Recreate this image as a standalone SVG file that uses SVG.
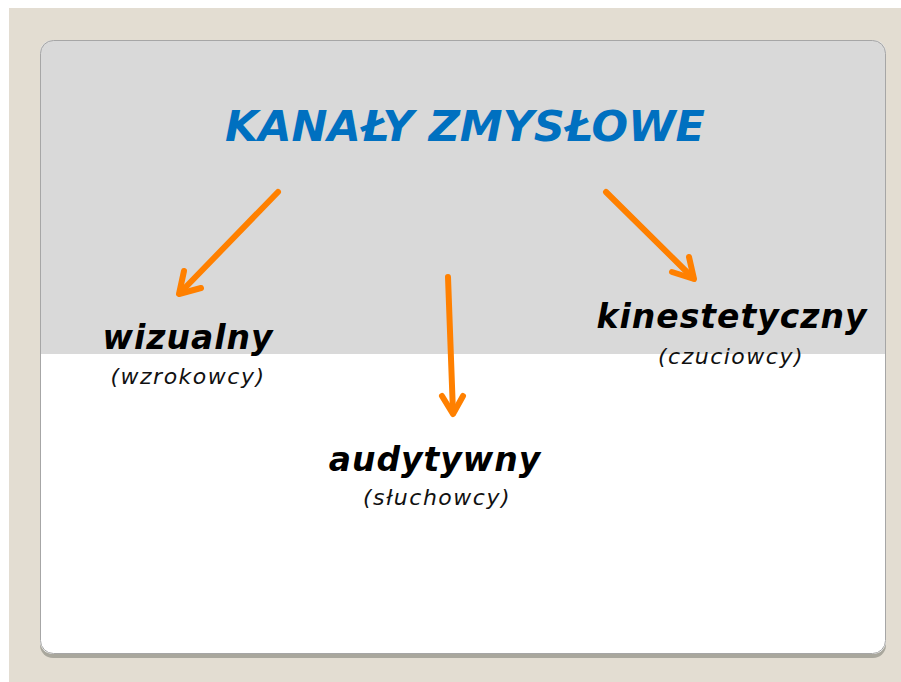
<svg xmlns="http://www.w3.org/2000/svg" width="901" height="682" viewBox="0 0 901 682">
  <style>
    .title { font-family: "DejaVu Sans", Verdana, sans-serif; font-weight: bold; font-style: italic; font-size: 43px; fill: #0070c0; }
    .label { font-family: "DejaVu Sans", Verdana, sans-serif; font-weight: bold; font-style: italic; font-size: 33px; fill: #000; letter-spacing: 1px; }
    .sub { font-family: "DejaVu Sans", Verdana, sans-serif; font-style: italic; font-size: 22px; fill: #111; letter-spacing: 1.5px; }
    .arrow { fill: none; stroke: #ff8000; stroke-width: 6; stroke-linecap: round; stroke-linejoin: round; }
  </style>
  <defs>
    <clipPath id="cardClip">
      <rect x="40" y="40" width="846" height="614" rx="13"/>
    </clipPath>
  </defs>

  <!-- backdrop -->
  <rect x="0" y="0" width="901" height="682" fill="#ffffff"/>
  <rect x="9" y="8" width="892" height="674" fill="#e3ddd2"/>

  <!-- card with drop shadow -->
  <g id="card">
    <rect x="40" y="44" width="846" height="614" rx="13" fill="#a9a79d"/>
    <g clip-path="url(#cardClip)">
      <rect x="40" y="40" width="846" height="614" fill="#ffffff"/>
      <rect x="40" y="40" width="846" height="314" fill="#d9d9d9"/>
    </g>
    <rect x="40.5" y="40.5" width="845" height="613" rx="13" fill="none" stroke="#a6a6a6" stroke-width="1"/>
  </g>

  <g id="title">
    <text class="title" x="465" y="141" text-anchor="middle">KANAŁY ZMYSŁOWE</text>
  </g>

  <g id="connectors">
    <path class="arrow" d="M278,192 L180,293"/>
    <path class="arrow" d="M184,271 L179,294 L201,288"/>
    <path class="arrow" d="M606,192 L693,278"/>
    <path class="arrow" d="M672,272 L694,279 L689,257"/>
    <path class="arrow" d="M448,277 L453,413"/>
    <path class="arrow" d="M442,396 L453,414 L463,396"/>
  </g>

  <g id="wizualny">
    <text class="label" x="188" y="349" text-anchor="middle">wizualny</text>
    <text class="sub" x="188" y="384" text-anchor="middle">(wzrokowcy)</text>
  </g>

  <g id="audytywny">
    <text class="label" x="435" y="471" text-anchor="middle">audytywny</text>
    <text class="sub" x="437" y="505" text-anchor="middle">(słuchowcy)</text>
  </g>

  <g id="kinestetyczny">
    <text class="label" x="732" y="328" text-anchor="middle">kinestetyczny</text>
    <text class="sub" x="731" y="364" text-anchor="middle">(czuciowcy)</text>
  </g>
</svg>
